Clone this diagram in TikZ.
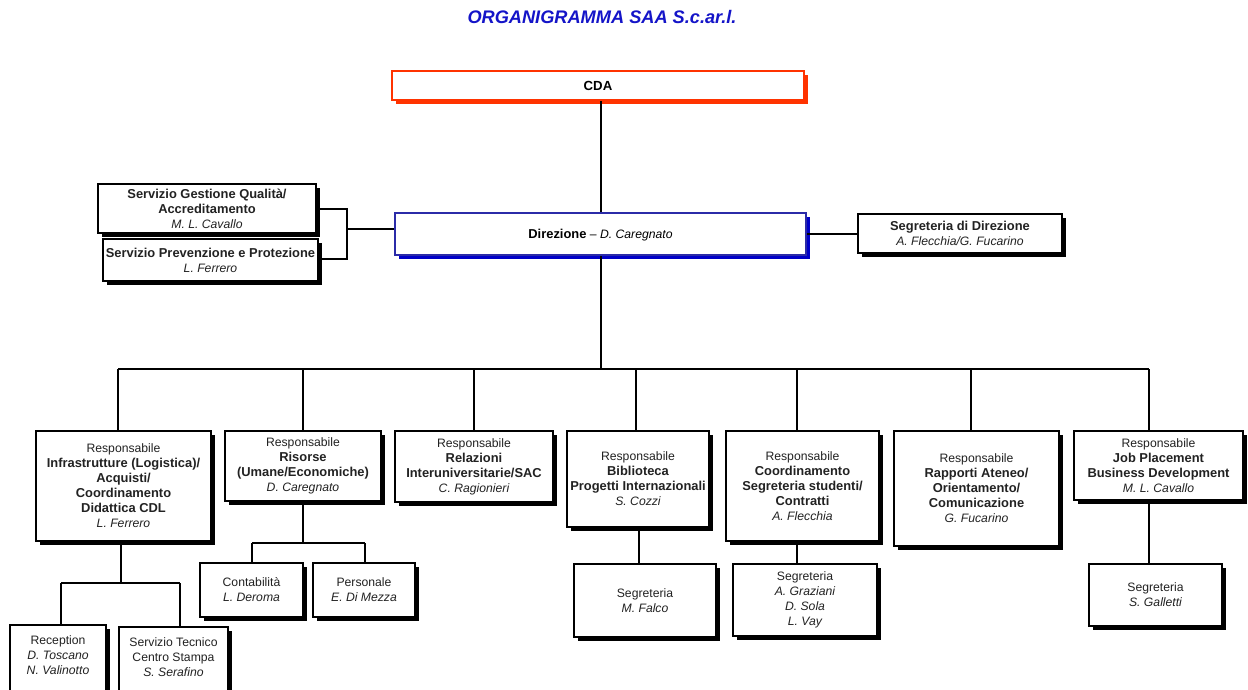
\documentclass[tikz,border=0pt]{standalone}
\usepackage{fontspec}
\setmainfont{Liberation Sans}
\usetikzlibrary{shadows}
\definecolor{cdared}{HTML}{FF3300}
\definecolor{dirblue}{HTML}{2B2BA8}
\definecolor{dirshadow}{HTML}{0000C8}
\definecolor{titleblue}{HTML}{1414C8}
\definecolor{txtgray}{HTML}{222222}
\newcommand\Bf[1]{{\fontsize{12.9}{15}\selectfont\bfseries #1}}
\newcommand\It[1]{{\itshape #1}}
\tikzset{
  box/.style={draw=black, line width=1.8pt, fill=white, inner sep=0pt, align=center,
    text=txtgray,
    drop shadow={shadow xshift=4pt, shadow yshift=-4pt, fill=black, opacity=1},
    font=\fontsize{12.2}{15}\selectfont},
  sz/.style 2 args={minimum width=#1pt, minimum height=#2pt},
  conn/.style={line width=2pt, black}
}
\begin{document}
\begin{tikzpicture}[x=1pt,y=-1pt]
\useasboundingbox (0,0) rectangle (1248,689);
\fill[white] (0,0) rectangle (1248,689);

\node (title) at (602,17) [text=titleblue, font=\fontsize{18.2}{20}\selectfont\bfseries\itshape] {ORGANIGRAMMA SAA S.c.ar.l.};

\node (cda) at (598,85.5) [draw=cdared, line width=2.4pt, fill=white, inner sep=0pt, sz={412}{29},
  drop shadow={shadow xshift=4pt, shadow yshift=-4pt, fill=cdared, opacity=1},
  font=\fontsize{13.2}{15}\selectfont\bfseries] {CDA};

\node (dir) at (600.5,234) [draw=dirblue, line width=2pt, fill=white, inner sep=0pt, sz={411}{42},
  drop shadow={shadow xshift=4pt, shadow yshift=-4pt, fill=dirshadow, opacity=1},
  text depth=0pt, font=\fontsize{12.2}{15}\selectfont] {\Bf{Direzione} -- \It{D. Caregnato}};

\node[box, sz={218}{49}] (sgq) at (207,208.5) {\Bf{Servizio Gestione Qualità/}\\\Bf{Accreditamento}\\\It{M. L. Cavallo}};
\node[box, sz={215}{42}] (spp) at (210.5,260) {\Bf{Servizio Prevenzione e Protezione}\\\It{L. Ferrero}};
\node[box, sz={204}{39}] (sdd) at (960,233.5) {\Bf{Segreteria di Direzione}\\\It{A. Flecchia/G. Fucarino}};

\node[box, sz={175}{110}] (b1) at (123.5,486) {Responsabile\\\Bf{Infrastrutture (Logistica)/}\\\Bf{Acquisti/}\\\Bf{Coordinamento}\\\Bf{Didattica CDL}\\\It{L. Ferrero}};
\node[box, sz={156}{70}] (b2) at (303,466) {Responsabile\\\Bf{Risorse}\\\Bf{(Umane/Economiche)}\\\It{D. Caregnato}};
\node[box, sz={158}{71}] (b3) at (474,466.5) {Responsabile\\\Bf{Relazioni}\\\Bf{Interuniversitarie/SAC}\\\It{C. Ragionieri}};
\node[box, sz={142}{96}] (b4) at (638,479) {Responsabile\\\Bf{Biblioteca}\\\Bf{Progetti Internazionali}\\\It{S. Cozzi}};
\node[box, sz={153}{110}] (b5) at (802.5,486) {Responsabile\\\Bf{Coordinamento}\\\Bf{Segreteria studenti/}\\\Bf{Contratti}\\\It{A. Flecchia}};
\node[box, sz={165}{115}] (b6) at (976.5,488.5) {Responsabile\\\Bf{Rapporti Ateneo/}\\\Bf{Orientamento/}\\\Bf{Comunicazione}\\\It{G. Fucarino}};
\node[box, sz={169}{69}] (b7) at (1158.5,465.5) {Responsabile\\\Bf{Job Placement}\\\Bf{Business Development}\\\It{M. L. Cavallo}};

\node[box, sz={96}{75}, text depth=15pt] (rec) at (58,662.5) {Reception\\\It{D. Toscano}\\\It{N. Valinotto}};
\node[box, sz={109}{73}, text depth=13pt] (stc) at (173.5,663.5) {Servizio Tecnico\\Centro Stampa\\\It{S. Serafino}};
\node[box, sz={103}{54}] (con) at (251.5,590) {Contabilità\\\It{L. Deroma}};
\node[box, sz={102}{54}] (per) at (364,590) {Personale\\\It{E. Di Mezza}};
\node[box, sz={142}{73}] (sf) at (645,600.5) {Segreteria\\\It{M. Falco}};
\node[box, sz={144}{72}] (sg) at (805,600) {Segreteria\\\It{A. Graziani}\\\It{D. Sola}\\\It{L. Vay}};
\node[box, sz={133}{62}] (sgal) at (1155.5,595) {Segreteria\\\It{S. Galletti}};

% top connectors
\draw[conn] (dir.north |- cda.south) -- (dir.north);
\coordinate (bus) at (601,369);
\draw[conn] (dir.south) -- (dir.south |- bus);

% left bracket
\coordinate (lb1) at (347,209);
\coordinate (lb2) at (347,259);
\coordinate (lbm) at (347,229);
\draw[conn] (sgq.east |- lb1) -- (lb1) -- (lb2) -- (spp.east |- lb2);
\draw[conn] (lbm) -- (dir.west |- lbm);
\draw[conn] (dir.east) -- (dir.east -| sdd.west);

% bus
\coordinate (c1) at (118,369);
\coordinate (c2) at (303,369);
\coordinate (c3) at (474,369);
\coordinate (c4) at (636,369);
\coordinate (c5) at (797,369);
\coordinate (c6) at (971,369);
\coordinate (c7) at (1149,369);
\draw[conn] (c1) -- (c7);
\draw[conn] (c1) -- (c1 |- b1.north);
\draw[conn] (c2) -- (c2 |- b2.north);
\draw[conn] (c3) -- (c3 |- b3.north);
\draw[conn] (c4) -- (c4 |- b4.north);
\draw[conn] (c5) -- (c5 |- b5.north);
\draw[conn] (c6) -- (c6 |- b6.north);
\draw[conn] (c7) -- (c7 |- b7.north);

% under b1
\coordinate (d1) at (121,583);
\coordinate (d1l) at (61,583);
\coordinate (d1r) at (180,583);
\draw[conn] (d1 |- b1.south) -- (d1);
\draw[conn] (d1l) -- (d1r);
\draw[conn] (d1l) -- (d1l |- rec.north);
\draw[conn] (d1r) -- (d1r |- stc.north);

% under b2
\coordinate (d2) at (303,543);
\coordinate (d2l) at (252,543);
\coordinate (d2r) at (365,543);
\draw[conn] (b2.south) -- (d2);
\draw[conn] (d2l) -- (d2r);
\draw[conn] (d2l) -- (d2l |- con.north);
\draw[conn] (d2r) -- (d2r |- per.north);

% under b4, b5, b7
\coordinate (d4) at (639,545);
\draw[conn] (d4 |- b4.south) -- (d4 |- sf.north);
\coordinate (d5) at (797,550);
\draw[conn] (d5 |- b5.south) -- (d5 |- sg.north);
\coordinate (d7) at (1149,530);
\draw[conn] (d7 |- b7.south) -- (d7 |- sgal.north);
\end{tikzpicture}
\end{document}
